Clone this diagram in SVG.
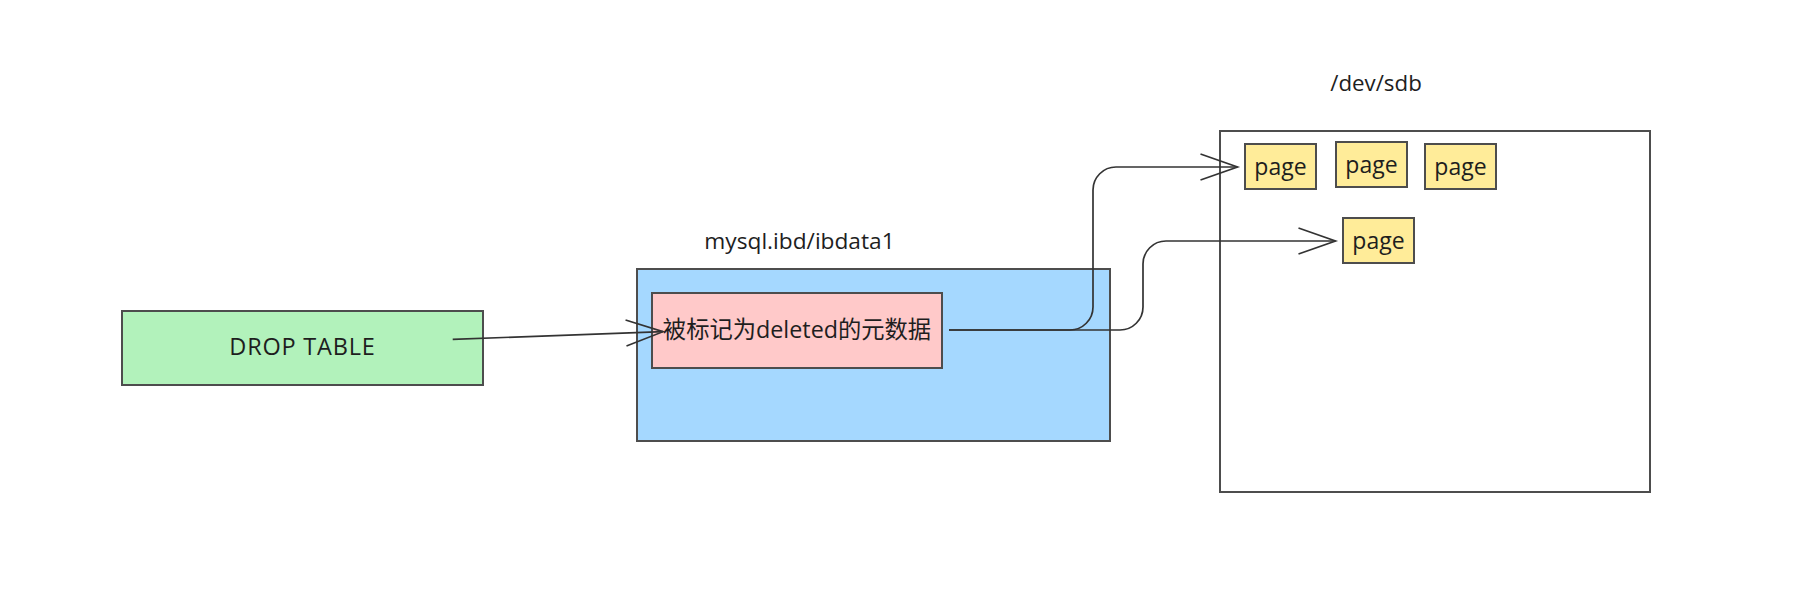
<svg xmlns="http://www.w3.org/2000/svg" width="1815" height="599" viewBox="0 0 1815 599">
<style>
.box{stroke:#4d4d4d;stroke-width:2}
.lbl{font-family:"Open Sans","Noto Sans CJK SC",sans-serif;fill:#1e1e1e;text-anchor:middle}
.conn{fill:none;stroke:#333333;stroke-width:1.7}
</style>
<defs>
<marker id="arr" markerUnits="userSpaceOnUse" viewBox="-40 -16 44 32" markerWidth="44" markerHeight="32" refX="0" refY="0" orient="auto" overflow="visible">
<path d="M-37,-13 L0,0 L-37,13" fill="none" stroke="#333333" stroke-width="1.7"/>
</marker>
</defs>
<rect width="1815" height="599" fill="#ffffff"/>
<g id="drop-table">
<rect class="box" x="122" y="311" width="361" height="74" fill="#b2f2bb"/>
<text class="lbl" x="302.5" y="355" font-size="23.5" letter-spacing="0.8">DROP TABLE</text>
</g>
<g id="ibdata-label">
<text class="lbl" x="799.5" y="249" font-size="22.7">mysql.ibd/ibdata1</text>
</g>
<g id="ibdata">
<rect class="box" x="637" y="269" width="473" height="172" fill="#a5d8ff"/>
</g>
<g id="metadata">
<rect class="box" x="652" y="293" width="290" height="75" fill="#ffc9c9"/>
<text class="lbl" x="797" y="338" font-size="23.3">被标记为deleted的元数据</text>
</g>
<g id="sdb-label">
<text class="lbl" x="1376" y="91" font-size="22.3">/dev/sdb</text>
</g>
<g id="sdb">
<rect class="box" x="1220" y="131" width="430" height="361" fill="#ffffff"/>
</g>
<g id="page1">
<rect class="box" x="1245" y="144" width="71" height="45" fill="#ffec99"/>
<text class="lbl" x="1280.5" y="175" font-size="23">page</text>
</g>
<g id="page2">
<rect class="box" x="1336" y="142" width="71" height="45" fill="#ffec99"/>
<text class="lbl" x="1371.5" y="173" font-size="23">page</text>
</g>
<g id="page3">
<rect class="box" x="1425" y="144" width="71" height="45" fill="#ffec99"/>
<text class="lbl" x="1460.5" y="175" font-size="23">page</text>
</g>
<g id="page4">
<rect class="box" x="1343" y="218" width="71" height="45" fill="#ffec99"/>
<text class="lbl" x="1378.5" y="249" font-size="23">page</text>
</g>
<g id="connectors">
<path class="conn" d="M452.7,339.3 L663,331.7" marker-end="url(#arr)"/>
<path class="conn" d="M949,330 H1070 A23,23 0 0 0 1093,307 V190 A23,23 0 0 1 1116,167 H1237.5" marker-end="url(#arr)"/>
<path class="conn" d="M949,330 H1120 A23,23 0 0 0 1143,307 V264 A23,23 0 0 1 1166,241 H1335.5" marker-end="url(#arr)"/>
</g>
</svg>
